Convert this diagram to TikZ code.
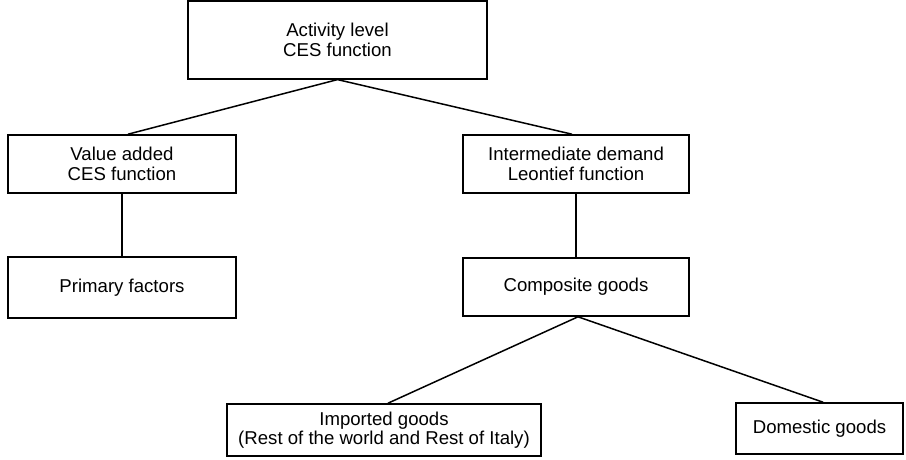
\documentclass[tikz,border=0pt]{standalone}
\usepackage{fontspec}
\setmainfont{Liberation Sans}
\begin{document}
\begin{tikzpicture}[x=1pt,y=-1pt,
  box/.style={draw,line width=1.6pt,rectangle,inner sep=0pt,align=center,
    font=\fontsize{18.6}{19.5}\selectfont},
  link/.style={line width=1.5pt}]
\useasboundingbox (0,0) rectangle (906,460);
\node[box,minimum width=299,minimum height=78] (top) at (337.5,39.8) {Activity level\\CES function};
\node[box,minimum width=228,minimum height=58] (va) at (122,164) {Value added\\CES function};
\node[box,minimum width=226,minimum height=58] (id) at (576,164) {Intermediate demand\\Leontief function};
\node[box,minimum width=228,minimum height=61] (pf) at (122,287.5) {Primary factors};
\node[box,minimum width=226,minimum height=58] (cg) at (576,287) {Composite goods};
\node[box,minimum width=314,minimum height=52] (ig) at (384,430) {Imported goods\\(Rest of the world and Rest of Italy)};
\node[box,minimum width=167,minimum height=51] (dg) at (819.5,428.5) {Domestic goods};
\draw[link] (top.south) -- ([xshift=6pt]va.north);
\draw[link] (top.south) -- ([xshift=-4pt]id.north);
\draw[link] (va.south) -- (pf.north);
\draw[link] (id.south) -- (cg.north);
\draw[link] ([xshift=2pt]cg.south) -- ([xshift=4pt]ig.north);
\draw[link] ([xshift=2pt]cg.south) -- ([xshift=3.5pt]dg.north);
\end{tikzpicture}
\end{document}
